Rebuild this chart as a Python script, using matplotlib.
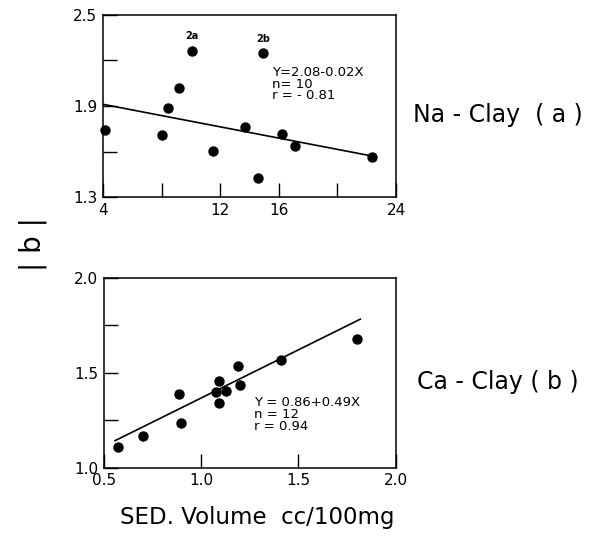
import numpy as np
import matplotlib
matplotlib.use("Agg")
from matplotlib import pyplot as plt

# Na-Clay (a): sedimentation volume vs |b|
na_x = [4.15, 8.05, 8.46, 9.19, 10.08, 11.53, 13.7, 14.56, 14.94, 16.2, 17.13, 22.38]
na_y = [1.74, 1.71, 1.885, 2.02, 2.26, 1.604, 1.76, 1.43, 2.246, 1.718, 1.64, 1.563]
na_fit = [1.985, -0.0185]   # intercept, slope as drawn
na_fit_range = [4.0, 22.4]
na_notes = {"2a": (10.08, 2.26), "2b": (14.94, 2.246)}
na_text = "Y=2.08-0.02X\nn= 10\nr = - 0.81"

# Ca-Clay (b)
ca_x = [0.574, 0.699, 0.886, 0.896, 1.076, 1.091, 1.091, 1.127, 1.187, 1.199, 1.41, 1.799]
ca_y = [1.107, 1.168, 1.39, 1.234, 1.397, 1.456, 1.339, 1.405, 1.535, 1.434, 1.567, 1.679]
ca_fit = [0.86, 0.507]
ca_fit_range = [0.557, 1.818]
ca_text = "Y = 0.86+0.49X\nn = 12\nr = 0.94"

plt.rcParams['font.family'] = ['DejaVu Sans']

fig = plt.figure(figsize=(6.0, 5.36), dpi=100)
ax1 = fig.add_axes([0.1717, 0.6319, 0.4883, 0.3407])
ax2 = fig.add_axes([0.1733, 0.1274, 0.4862, 0.3545])

for ax in (ax1, ax2):
    ax.tick_params(direction='in', length=10, width=1.0, labelsize=11, pad=4,
                   top=False, right=False)
    for s in ax.spines.values():
        s.set_linewidth(1.1)

# top panel
ax1.scatter(na_x, na_y, s=42, color='black', zorder=3, clip_on=False)
xs = np.array(na_fit_range)
ax1.plot(xs, na_fit[0] + na_fit[1] * xs, color='black', lw=1.2)
for lab, (px, py) in na_notes.items():
    ax1.annotate(lab, (px, py), xytext=(0, 7), textcoords='offset points',
                 ha='center', va='bottom', fontsize=7, fontweight='bold')
ax1.text(15.55, 2.16, na_text, fontsize=9.5, va='top', ha='left', linespacing=0.85)
ax1.set_xlim(4, 24)
ax1.set_ylim(1.3, 2.5)
ax1.set_xticks([4, 8, 12, 16, 20, 24])
ax1.set_xticklabels(['4', '', '12', '16', '', '24'])
ax1.set_yticks([1.3, 1.6, 1.9, 2.2, 2.5])
ax1.set_yticklabels(['1.3', '', '1.9', '', '2.5'])

# bottom panel
ax2.scatter(ca_x, ca_y, s=42, color='black', zorder=3)
xs = np.array(ca_fit_range)
ax2.plot(xs, ca_fit[0] + ca_fit[1] * xs, color='black', lw=1.2)
ax2.text(1.27, 1.375, ca_text, fontsize=9.5, va='top', ha='left', linespacing=0.9)
ax2.set_xlim(0.5, 2.0)
ax2.set_ylim(1.0, 2.0)
ax2.set_xticks([0.5, 1.0, 1.5, 2.0])
ax2.set_xticklabels(['0.5', '1.0', '1.5', '2.0'])
ax2.set_yticks([1.0, 1.25, 1.5, 1.75, 2.0])
ax2.set_yticklabels(['1.0', '', '1.5', '', '2.0'])
ax2.set_xlabel('SED. Volume  cc/100mg', fontsize=16.5, labelpad=12)
ax2.xaxis.set_label_coords(0.525, -0.2)

fig.text(0.688, 0.785, 'Na - Clay  ( a )', fontsize=17, va='center', ha='left')
fig.text(0.695, 0.287, 'Ca - Clay ( b )', fontsize=17, va='center', ha='left')
fig.text(0.055, 0.545, '| b |', fontsize=20, rotation=90, va='center', ha='center')

fig.savefig('out.png', dpi=100)
